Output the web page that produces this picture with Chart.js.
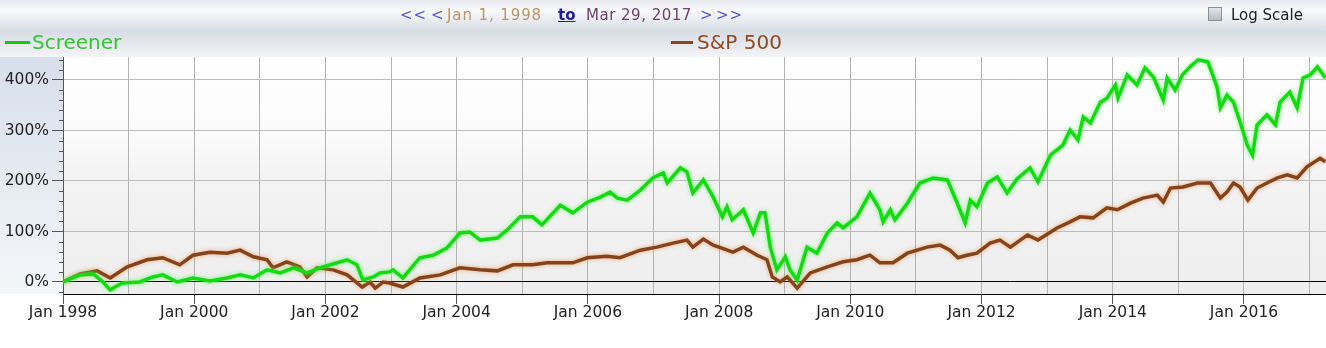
<!DOCTYPE html>
<html>
<head>
<meta charset="utf-8">
<script src="https://cdn.jsdelivr.net/npm/chart.js@4.4.1/dist/chart.umd.min.js"></script>
<style>
  body { margin: 0; background: #fff; }
  #wrap { position: relative; width: 1326px; height: 348px; overflow: hidden; font-family: "DejaVu Sans", Verdana, sans-serif; }
  #myChart { position: absolute; left: 0; top: 0; }
  .t { position: absolute; white-space: nowrap; font-size: 15px; line-height: 18px; top: 6px; letter-spacing: 0.9px; }
  .nav { color: #5656d4; }
  .lg { position: absolute; white-space: nowrap; font-size: 20px; line-height: 24px; top: 30px; }
  .ln { position: absolute; top: 41px; height: 3px; }
  #chk { position: absolute; left: 1208px; top: 7px; width: 12px; height: 12px; border: 1px solid #8a909a; background: linear-gradient(#e4e6ea, #b7bcc5); }
</style>
</head>
<body>
<div id="wrap">
  <canvas id="myChart" width="1326" height="348"></canvas>
  <span class="t nav" style="left:400px">&lt;&lt;</span>
  <span class="t nav" style="left:431px">&lt;</span>
  <span class="t" style="left:447px;color:#b9956a">Jan 1, 1998</span>
  <span class="t" style="left:558px;color:#1c1ca8;font-weight:bold;text-decoration:underline;letter-spacing:0">to</span>
  <span class="t" style="left:586px;color:#6e3f6e;letter-spacing:0.5px">Mar 29, 2017</span>
  <span class="t nav" style="left:700px">&gt;</span>
  <span class="t nav" style="left:716px">&gt;&gt;</span>
  <div id="chk"></div>
  <span class="t" style="left:1231px;color:#222;letter-spacing:0">Log Scale</span>
  <div class="ln" style="left:5px;width:25px;background:#11cc11"></div>
  <span class="lg" style="left:32px;color:#2fc82f">Screener</span>
  <div class="ln" style="left:671px;width:22px;background:#8b4513"></div>
  <span class="lg" style="left:697px;color:#8f4a1f">S&amp;P 500</span>
</div>
<script>
// values (% change since Jan 1998)
const screenerYears = [1998.00, 1998.26, 1998.46, 1998.61, 1998.72, 1998.79, 1998.91, 1999.17, 1999.37, 1999.52,
  1999.74, 1999.98, 2000.24, 2000.50, 2000.70, 2000.90, 2001.11, 2001.31, 2001.51, 2001.72,
  2001.96, 2002.18, 2002.33, 2002.48, 2002.57, 2002.73, 2002.83, 2002.98, 2003.03, 2003.18,
  2003.44, 2003.64, 2003.85, 2004.05, 2004.20, 2004.36, 2004.62, 2004.77, 2004.97, 2005.16,
  2005.30, 2005.58, 2005.77, 2005.99, 2006.19, 2006.34, 2006.45, 2006.60, 2006.80, 2006.99,
  2007.15, 2007.21, 2007.41, 2007.51, 2007.60, 2007.76, 2007.91, 2008.05, 2008.12, 2008.20,
  2008.37, 2008.52, 2008.63, 2008.70, 2008.78, 2008.88, 2009.01, 2009.08, 2009.19, 2009.34,
  2009.49, 2009.65, 2009.80, 2009.89, 2010.10, 2010.30, 2010.45, 2010.50, 2010.61, 2010.68,
  2010.87, 2011.06, 2011.26, 2011.48, 2011.63, 2011.75, 2011.83, 2011.93, 2012.09, 2012.24,
  2012.39, 2012.54, 2012.74, 2012.86, 2013.05, 2013.24, 2013.35, 2013.47, 2013.55, 2013.66,
  2013.81, 2013.91, 2014.04, 2014.08, 2014.22, 2014.37, 2014.49, 2014.62, 2014.77, 2014.83,
  2014.95, 2015.06, 2015.18, 2015.30, 2015.45, 2015.59, 2015.64, 2015.74, 2015.84, 2015.94,
  2016.05, 2016.13, 2016.20, 2016.35, 2016.48, 2016.55, 2016.70, 2016.81, 2016.90, 2017.01,
  2017.12, 2017.24];
const screenerValues = [0, 14, 16, 0, -16, -10, -2, 0, 10, 14,
  0, 8, 2, 8, 14, 8, 24, 18, 28, 18,
  30, 38, 44, 34, 4, 10, 18, 20, 24, 8,
  48, 53, 67, 97, 99, 83, 87, 103, 129, 129,
  113, 152, 137, 158, 168, 178, 166, 162, 182, 206,
  216, 196, 226, 218, 176, 202, 168, 129, 149, 123,
  143, 97, 137, 137, 69, 24, 50, 24, 4, 69,
  57, 97, 117, 107, 129, 176, 143, 119, 143, 123,
  156, 196, 206, 202, 156, 117, 162, 149, 196, 208,
  176, 204, 226, 198, 251, 271, 301, 281, 327, 315,
  356, 364, 390, 364, 410, 390, 424, 406, 360, 404,
  380, 410, 426, 440, 436, 386, 345, 370, 356, 317,
  271, 251, 311, 331, 311, 356, 376, 345, 404, 410,
  426, 404];

const spYears = [1998.00, 1998.26, 1998.52, 1998.72, 1998.98, 1999.28, 1999.52, 1999.78, 1999.98, 2000.24,
  2000.50, 2000.70, 2000.90, 2001.11, 2001.20, 2001.41, 2001.61, 2001.72, 2001.87, 2002.12,
  2002.33, 2002.56, 2002.68, 2002.76, 2002.88, 2002.98, 2003.18, 2003.44, 2003.75, 2004.05,
  2004.36, 2004.62, 2004.86, 2005.16, 2005.38, 2005.77, 2005.99, 2006.29, 2006.49, 2006.80,
  2007.05, 2007.30, 2007.51, 2007.60, 2007.76, 2007.91, 2008.02, 2008.21, 2008.37, 2008.58,
  2008.73, 2008.81, 2008.93, 2009.04, 2009.19, 2009.39, 2009.65, 2009.89, 2010.10, 2010.30,
  2010.45, 2010.65, 2010.87, 2011.17, 2011.37, 2011.52, 2011.64, 2011.78, 2011.93, 2012.13,
  2012.28, 2012.44, 2012.59, 2012.70, 2012.86, 2013.15, 2013.35, 2013.50, 2013.70, 2013.91,
  2014.07, 2014.27, 2014.46, 2014.68, 2014.77, 2014.88, 2015.07, 2015.29, 2015.49, 2015.64,
  2015.74, 2015.84, 2015.94, 2016.06, 2016.20, 2016.35, 2016.51, 2016.66, 2016.81, 2016.96,
  2017.16, 2017.24];
const spValues = [0, 16, 22, 8, 30, 44, 48, 34, 53, 59,
  57, 63, 50, 44, 28, 40, 30, 10, 28, 24,
  14, -10, 0, -12, 0, -2, -10, 8, 14, 28,
  24, 22, 34, 34, 38, 38, 48, 51, 48, 63,
  69, 77, 83, 69, 85, 73, 68, 59, 69, 53,
  44, 10, 0, 10, -12, 18, 30, 40, 44, 53,
  38, 38, 57, 69, 73, 63, 48, 53, 57, 77,
  83, 69, 83, 93, 83, 107, 119, 129, 127, 147,
  143, 156, 166, 172, 158, 186, 188, 196, 196, 166,
  178, 196, 188, 162, 186, 196, 206, 212, 206, 228,
  245, 238];

// axis ticks
const xTickYears = [1998, 1999, 2000, 2001, 2002, 2003, 2004, 2005, 2006, 2007,
  2008, 2009, 2010, 2011, 2012, 2013, 2014, 2015, 2016, 2017];
const xLabelYears = [1998, 2000, 2002, 2004, 2006, 2008, 2010, 2012, 2014, 2016];
const yTickValues = [0, 100, 200, 300, 400];
const yMinorTicks = [-20, 20, 40, 60, 80, 120, 140, 160, 180, 220, 240, 260, 280, 320, 340, 360, 380, 420, 440];

const xMin = 1998, xMax = 2017.25;
const yMin = -23.8, yMax = 445.5;

function toPoints(xs, ys) {
  return xs.map((x, i) => ({ x: x, y: ys[i] }));
}

// backgrounds behind the chart
const backdrop = {
  id: 'backdrop',
  beforeDraw(chart) {
    const { ctx, chartArea: a } = chart;
    ctx.save();
    let g = ctx.createLinearGradient(0, 0, 0, a.top);
    g.addColorStop(0, '#e8eaed');
    g.addColorStop(0.18, '#f8f9fa');
    g.addColorStop(0.55, '#d8dde4');
    g.addColorStop(0.8, '#e6e9ee');
    g.addColorStop(1, '#f4f5f7');
    ctx.fillStyle = g;
    ctx.fillRect(0, 0, chart.width, a.top);

    g = ctx.createLinearGradient(0, a.top, 0, a.bottom);
    g.addColorStop(0, '#d6dfeb');
    g.addColorStop(1, '#f4f6f9');
    ctx.fillStyle = g;
    ctx.fillRect(0, a.top, a.left, a.bottom - a.top);

    g = ctx.createLinearGradient(0, a.top, 0, a.bottom);
    g.addColorStop(0, '#ffffff');
    g.addColorStop(0.35, '#fbfbfb');
    g.addColorStop(0.5, '#f3f3f3');
    g.addColorStop(1, '#eeeeee');
    ctx.fillStyle = g;
    ctx.fillRect(a.left, a.top, a.right - a.left, a.bottom - a.top);
    ctx.restore();
  }
};

// small minor ticks on the y axis
const minorTicks = {
  id: 'minorTicks',
  afterDraw(chart) {
    const { ctx, chartArea: a } = chart;
    const y = chart.scales.y;
    ctx.save();
    ctx.strokeStyle = '#555';
    ctx.lineWidth = 1;
    yMinorTicks.forEach(v => {
      const py = Math.round(y.getPixelForValue(v)) + 0.5;
      ctx.beginPath();
      ctx.moveTo(a.left - 4, py);
      ctx.lineTo(a.left, py);
      ctx.stroke();
    });
    ctx.restore();
  }
};

// soft halo round each line
const halo = {
  id: 'halo',
  beforeDatasetDraw(chart, args) {
    const ctx = chart.ctx;
    ctx.save();
    ctx.shadowColor = args.index === 0 ? 'rgba(110,240,110,0.9)' : 'rgba(225,140,70,0.7)';
    ctx.shadowBlur = 4;
  },
  afterDatasetDraw(chart) {
    chart.ctx.restore();
  }
};

const font = { family: '"DejaVu Sans", Verdana, sans-serif', size: 15.5 };

const chart = new Chart(document.getElementById('myChart').getContext('2d'), {
  type: 'line',
  data: {
    datasets: [{
      label: 'Screener',
      data: toPoints(screenerYears, screenerValues),
      borderColor: '#10dc10',
      borderWidth: 3.5,
      pointRadius: 0,
      tension: 0,
      order: 0
    }, {
      label: 'S&P 500',
      data: toPoints(spYears, spValues),
      borderColor: '#86431a',
      borderWidth: 3.5,
      pointRadius: 0,
      tension: 0,
      order: 1
    }]
  },
  options: {
    responsive: false,
    animation: false,
    events: [],
    layout: { padding: { top: 57, left: 0, right: 0, bottom: 0 } },
    plugins: { legend: { display: false }, tooltip: { enabled: false } },
    scales: {
      x: {
        type: 'linear',
        min: xMin,
        max: xMax,
        afterBuildTicks: s => { s.ticks = xTickYears.map(v => ({ value: v })); },
        afterFit: s => { s.height = 54; },
        ticks: {
          autoSkip: false,
          maxRotation: 0,
          padding: 0,
          color: '#222',
          font: font,
          callback: v => xLabelYears.includes(v) ? 'Jan ' + v : ''
        },
        grid: {
          color: '#b2b2b2',
          lineWidth: 1,
          tickLength: 10,
          tickColor: c => (c.tick && xLabelYears.includes(c.tick.value)) ? '#555' : 'rgba(0,0,0,0)'
        },
        border: { color: '#000', width: 1 }
      },
      y: {
        min: yMin,
        max: yMax,
        afterBuildTicks: s => { s.ticks = yTickValues.map(v => ({ value: v })); },
        afterFit: s => { s.width = 63; },
        ticks: {
          padding: 3,
          color: '#222',
          font: font,
          callback: v => v + '%'
        },
        grid: {
          color: c => (c.tick && c.tick.value === 0) ? '#000' : '#bcbcbc',
          lineWidth: 1,
          tickLength: 11,
          tickColor: '#555'
        },
        border: { color: '#555', width: 1 }
      }
    }
  },
  plugins: [backdrop, minorTicks, halo]
});
</script>
</body>
</html>
